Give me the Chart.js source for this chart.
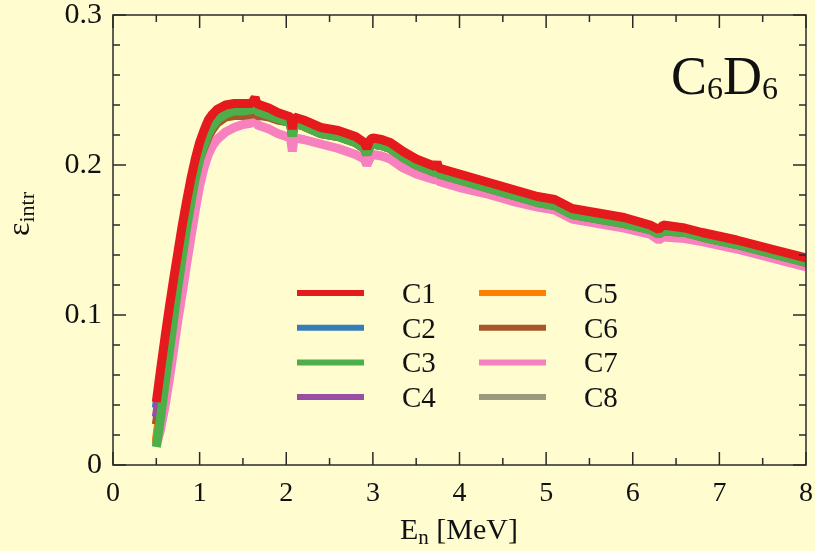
<!DOCTYPE html>
<html>
<head>
<meta charset="utf-8">
<script src="https://cdn.jsdelivr.net/npm/chart.js@4.4.1/dist/chart.umd.min.js"></script>
<style>
  html, body { margin: 0; padding: 0; background: #fffcd0; }
  #wrap { position: relative; width: 815px; height: 551px; }
</style>
</head>
<body>
<div id="wrap"><canvas id="effChart" width="815" height="551"></canvas></div>
<script>
// ── data
const energy = [0.5, 0.55, 0.6, 0.65, 0.7, 0.75, 0.8, 0.85, 0.9, 0.95,
  1.0, 1.05, 1.1, 1.15, 1.2, 1.3, 1.4, 1.5, 1.6, 1.64,
  1.66, 1.7, 1.8, 1.9, 2.0, 2.05, 2.07, 2.09, 2.2, 2.4,
  2.6, 2.8, 2.9, 2.93, 2.97, 3.0, 3.1, 3.2, 3.35, 3.5,
  3.72, 3.74, 3.76, 4.0, 4.3, 4.6, 4.9, 5.1, 5.3, 5.6,
  5.9, 6.2, 6.3, 6.35, 6.6, 6.8, 7.2, 7.6, 8.0];

const effC1 = [0.042, 0.064, 0.085, 0.105, 0.124, 0.142, 0.160, 0.176, 0.191, 0.204,
  0.215, 0.223, 0.230, 0.234, 0.237, 0.240, 0.241, 0.241, 0.241, 0.245,
  0.241, 0.240, 0.238, 0.235, 0.233, 0.232, 0.224, 0.232, 0.230, 0.225,
  0.223, 0.219, 0.215, 0.211, 0.217, 0.218, 0.217, 0.215, 0.209, 0.204,
  0.199, 0.202, 0.198, 0.194, 0.189, 0.184, 0.179, 0.177, 0.171, 0.168,
  0.165, 0.160, 0.157, 0.160, 0.158, 0.155, 0.150, 0.144, 0.138];

const effC2 = [0.038, 0.058, 0.078, 0.098, 0.117, 0.136, 0.154, 0.171, 0.186, 0.200,
  0.211, 0.220, 0.227, 0.231, 0.234, 0.238, 0.239, 0.239, 0.240, 0.242,
  0.239, 0.238, 0.236, 0.233, 0.231, 0.230, 0.222, 0.230, 0.228, 0.223,
  0.221, 0.217, 0.213, 0.210, 0.215, 0.216, 0.215, 0.213, 0.207, 0.202,
  0.197, 0.200, 0.196, 0.192, 0.187, 0.182, 0.177, 0.175, 0.169, 0.166,
  0.163, 0.158, 0.155, 0.158, 0.156, 0.153, 0.148, 0.142, 0.136];

const effC3 = [0.012, 0.032, 0.054, 0.075, 0.097, 0.119, 0.139, 0.158, 0.175, 0.191,
  0.204, 0.213, 0.221, 0.226, 0.230, 0.234, 0.236, 0.236, 0.237, 0.238,
  0.236, 0.235, 0.233, 0.231, 0.229, 0.228, 0.219, 0.228, 0.226, 0.221,
  0.219, 0.215, 0.211, 0.207, 0.213, 0.214, 0.213, 0.211, 0.205, 0.200,
  0.195, 0.197, 0.194, 0.190, 0.185, 0.180, 0.175, 0.173, 0.167, 0.164,
  0.161, 0.157, 0.154, 0.156, 0.155, 0.152, 0.147, 0.141, 0.135];

const effC4 = [0.032, 0.051, 0.071, 0.091, 0.111, 0.131, 0.150, 0.167, 0.183, 0.197,
  0.208, 0.217, 0.224, 0.229, 0.233, 0.237, 0.239, 0.239, 0.239, 0.241,
  0.238, 0.237, 0.235, 0.232, 0.230, 0.229, 0.221, 0.229, 0.227, 0.222,
  0.220, 0.216, 0.212, 0.209, 0.214, 0.215, 0.214, 0.212, 0.206, 0.201,
  0.196, 0.198, 0.195, 0.191, 0.186, 0.181, 0.176, 0.174, 0.168, 0.165,
  0.162, 0.158, 0.155, 0.157, 0.156, 0.153, 0.148, 0.142, 0.136];

const effC5 = [0.016, 0.038, 0.060, 0.081, 0.102, 0.123, 0.142, 0.160, 0.177, 0.192,
  0.204, 0.213, 0.220, 0.225, 0.229, 0.234, 0.236, 0.236, 0.237, 0.238,
  0.236, 0.235, 0.233, 0.231, 0.229, 0.228, 0.219, 0.228, 0.226, 0.221,
  0.219, 0.215, 0.211, 0.207, 0.213, 0.214, 0.213, 0.211, 0.205, 0.200,
  0.195, 0.197, 0.194, 0.190, 0.185, 0.180, 0.175, 0.173, 0.167, 0.164,
  0.161, 0.157, 0.154, 0.156, 0.155, 0.152, 0.147, 0.141, 0.135];

const effC6 = [0.027, 0.046, 0.066, 0.086, 0.106, 0.126, 0.145, 0.163, 0.179, 0.193,
  0.204, 0.212, 0.219, 0.224, 0.228, 0.232, 0.233, 0.233, 0.234, 0.235,
  0.233, 0.233, 0.232, 0.230, 0.229, 0.228, 0.219, 0.228, 0.226, 0.221,
  0.219, 0.215, 0.211, 0.207, 0.213, 0.214, 0.213, 0.211, 0.205, 0.200,
  0.195, 0.197, 0.194, 0.190, 0.185, 0.180, 0.175, 0.173, 0.167, 0.164,
  0.161, 0.157, 0.154, 0.156, 0.155, 0.152, 0.147, 0.141, 0.135];

const effC7 = [0.013, 0.024, 0.039, 0.057, 0.077, 0.097, 0.115, 0.134, 0.152, 0.170,
  0.186, 0.198, 0.207, 0.213, 0.217, 0.222, 0.225, 0.227, 0.228, 0.232,
  0.227, 0.226, 0.224, 0.221, 0.219, 0.218, 0.209, 0.218, 0.217, 0.214,
  0.211, 0.207, 0.204, 0.200, 0.205, 0.207, 0.206, 0.204, 0.198, 0.194,
  0.190, 0.191, 0.189, 0.185, 0.181, 0.176, 0.172, 0.170, 0.164, 0.161,
  0.158, 0.154, 0.150, 0.152, 0.151, 0.149, 0.144, 0.138, 0.132];

const effC8 = [0.014, 0.036, 0.057, 0.078, 0.099, 0.120, 0.140, 0.158, 0.175, 0.190,
  0.203, 0.212, 0.220, 0.225, 0.229, 0.234, 0.236, 0.236, 0.237, 0.238,
  0.236, 0.235, 0.233, 0.231, 0.229, 0.228, 0.219, 0.228, 0.226, 0.221,
  0.219, 0.215, 0.211, 0.207, 0.213, 0.214, 0.213, 0.211, 0.205, 0.200,
  0.195, 0.197, 0.194, 0.190, 0.185, 0.180, 0.175, 0.173, 0.167, 0.164,
  0.161, 0.157, 0.154, 0.156, 0.155, 0.152, 0.147, 0.141, 0.135];

const seriesNames  = ['C1', 'C2', 'C3', 'C4', 'C5', 'C6', 'C7', 'C8'];
const seriesValues = [effC1, effC2, effC3, effC4, effC5, effC6, effC7, effC8];
const seriesColors = ['#e41a1c', '#377eb8', '#4daf4a', '#984ea3', '#ff7f00', '#a65628', '#f781bf', '#9a9a7e'];
// 낮을수록 위에 그려짐 (C1 → C3 → ...)
const drawOrder    = [0, 3, 1, 2, 6, 4, 5, 7];

const xTickVals = [0, 1, 2, 3, 4, 5, 6, 7, 8];
const yTickVals = [0, 0.1, 0.2, 0.3];

const BG = '#fffcd0';
const SERIF = "'Liberation Serif', 'Times New Roman', serif";

Chart.defaults.font.family = SERIF;
Chart.defaults.color = '#111';

/* ── frame, inside ticks, legend, titles */
const decorPlugin = {
  id: 'decor',
  beforeDraw(chart) {
    const { ctx, width, height } = chart;
    ctx.save();
    ctx.fillStyle = BG;
    ctx.fillRect(0, 0, width, height);
    ctx.restore();
  },
  afterDraw(chart) {
    const { ctx, chartArea: a, scales: { x, y } } = chart;
    ctx.save();

    // box + ticks on all four sides
    ctx.strokeStyle = '#2a2a2a';
    ctx.lineWidth = 1.5;
    ctx.strokeRect(a.left, a.top, a.right - a.left, a.bottom - a.top);
    ctx.beginPath();
    for (let i = 0; i <= 16; i++) {
      const px = x.getPixelForValue(i * 0.5);
      const len = i % 2 === 0 ? 13 : 7;
      ctx.moveTo(px, a.bottom); ctx.lineTo(px, a.bottom - len);
      ctx.moveTo(px, a.top);    ctx.lineTo(px, a.top + len);
    }
    for (let i = 0; i <= 15; i++) {
      const py = y.getPixelForValue(i * 0.02);
      const len = i % 5 === 0 ? 13 : 7;
      ctx.moveTo(a.left, py);  ctx.lineTo(a.left + len, py);
      ctx.moveTo(a.right, py); ctx.lineTo(a.right - len, py);
    }
    ctx.stroke();

    // legend, 2 columns x 4 rows
    ctx.lineWidth = 6;
    ctx.lineCap = 'butt';
    ctx.font = `29px ${SERIF}`;
    ctx.fillStyle = '#111';
    ctx.textBaseline = 'alphabetic';
    chart.data.datasets.forEach((ds, i) => {
      const col = i < 4 ? 0 : 1;
      const row = i % 4;
      const lx = col === 0 ? 297 : 479;
      const ly = 293 + row * 34.7;
      ctx.strokeStyle = ds.borderColor;
      ctx.beginPath();
      ctx.moveTo(lx, ly); ctx.lineTo(lx + 67, ly);
      ctx.stroke();
      ctx.textAlign = 'left';
      ctx.fillText(ds.label, lx + 105, ly + 10);
    });

    // C6D6 label
    const parts = [['C', 54, 0], ['6', 32, 5], ['D', 54, 0], ['6', 32, 5]];
    let tx = 671;
    parts.forEach(([t, sz, dy]) => {
      ctx.font = `${sz}px ${SERIF}`;
      ctx.textAlign = 'left';
      ctx.fillText(t, tx, 94 + dy);
      tx += ctx.measureText(t).width;
    });

    // x title: E_n [MeV]
    const xParts = [['E', 30, 0], ['n', 21, 5], [' [MeV]', 30, 0]];
    let tot = 0;
    xParts.forEach(([t, sz]) => { ctx.font = `${sz}px ${SERIF}`; tot += ctx.measureText(t).width; });
    tx = 459 - tot / 2;
    xParts.forEach(([t, sz, dy]) => {
      ctx.font = `${sz}px ${SERIF}`;
      ctx.fillText(t, tx, 539 + dy);
      tx += ctx.measureText(t).width;
    });

    // y title: ε_intr (rotated)
    ctx.translate(29, 236);
    ctx.rotate(-Math.PI / 2);
    const yParts = [['ε', 32, 0], ['intr', 22, 5]];
    tx = 0;
    yParts.forEach(([t, sz, dy]) => {
      ctx.font = `${sz}px ${SERIF}`;
      ctx.fillText(t, tx, dy);
      tx += ctx.measureText(t).width;
    });

    ctx.restore();
  }
};

const datasets = seriesNames.map((name, i) => ({
  label: name,
  data: energy.map((e, k) => ({ x: e, y: seriesValues[i][k] })),
  borderColor: seriesColors[i],
  backgroundColor: seriesColors[i],
  borderWidth: 9,
  borderCapStyle: 'butt',
  borderJoinStyle: 'bevel',
  pointRadius: 0,
  tension: 0,
  fill: false,
  order: drawOrder[i]
}));

new Chart(document.getElementById('effChart'), {
  type: 'line',
  data: { datasets },
  options: {
    responsive: false,
    devicePixelRatio: 1,
    animation: false,
    layout: { padding: { left: 0, right: 9, top: 15, bottom: 0 } },
    plugins: {
      legend: { display: false },
      tooltip: { enabled: false }
    },
    scales: {
      x: {
        type: 'linear',
        min: 0,
        max: 8,
        grid: { display: false, drawTicks: false },
        border: { display: false },
        afterBuildTicks: s => { s.ticks = xTickVals.map(v => ({ value: v })); },
        afterFit: s => { s.height = 86; s.paddingLeft = 0; s.paddingRight = 0; },
        ticks: {
          padding: 12,
          maxRotation: 0,
          font: { size: 28 },
          color: '#111',
          callback: v => String(v)
        }
      },
      y: {
        type: 'linear',
        min: 0,
        max: 0.3,
        grid: { display: false, drawTicks: false },
        border: { display: false },
        afterBuildTicks: s => { s.ticks = yTickVals.map(v => ({ value: v })); },
        afterFit: s => { s.width = 113; s.paddingTop = 0; s.paddingBottom = 0; },
        ticks: {
          padding: 11,
          font: { size: 30 },
          color: '#111',
          callback: v => (v === 0 ? '0' : v.toFixed(1))
        }
      }
    }
  },
  plugins: [decorPlugin]
});
</script>
</body>
</html>
